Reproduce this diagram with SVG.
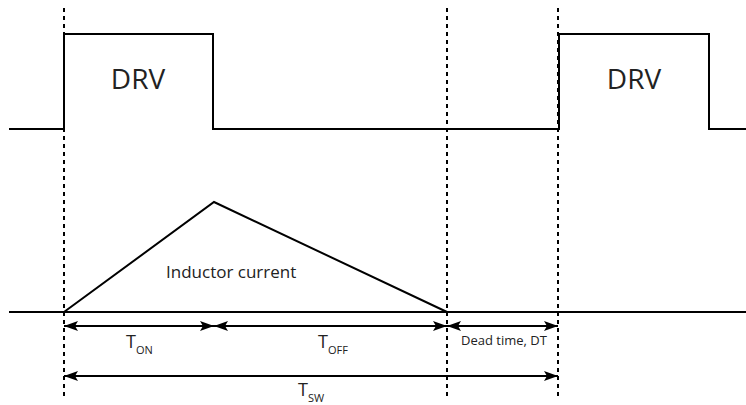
<svg xmlns="http://www.w3.org/2000/svg" width="746" height="405" viewBox="0 0 746 405">
<defs>
<style>
.ln{stroke:#000;stroke-width:2;fill:none}
.dash{stroke:#000;stroke-width:2;stroke-dasharray:4,4;fill:none}
.txt{font-family:"Open Sans","Noto Sans","Liberation Sans",sans-serif;fill:#222}
</style>
<marker id="ah" viewBox="0 0 14 10" refX="14" refY="5" markerWidth="14" markerHeight="10" markerUnits="userSpaceOnUse" orient="auto-start-reverse">
<path d="M0,0 L14,5 L0,10 L3,5 Z" fill="#000"/>
</marker>
</defs>
<rect width="746" height="405" fill="#fff"/>
<g id="guides">
<line class="dash" x1="64" y1="8" x2="64" y2="398"/>
<line class="dash" x1="447" y1="8" x2="447" y2="398"/>
<line class="dash" x1="558" y1="8" x2="558" y2="398"/>
</g>
<g id="drv-signal">
<path class="ln" d="M9,129 H64 V34 H213 V129 H559 V34 H709 V129 H746"/>
<text class="txt" x="138" y="89" font-size="28" text-anchor="middle">DRV</text>
<text class="txt" x="634" y="89" font-size="28" text-anchor="middle">DRV</text>
</g>
<g id="inductor-current">
<line class="ln" x1="9" y1="312" x2="746" y2="312"/>
<path class="ln" d="M64,312 L214,202 L447,312"/>
<text class="txt" x="166" y="278" font-size="17">Inductor current</text>
</g>
<g id="connectors">
<line class="ln" x1="64" y1="326" x2="214" y2="326" marker-start="url(#ah)" marker-end="url(#ah)"/>
<line class="ln" x1="214" y1="326" x2="447" y2="326" marker-start="url(#ah)" marker-end="url(#ah)"/>
<line class="ln" x1="447" y1="326" x2="558" y2="326" marker-start="url(#ah)" marker-end="url(#ah)"/>
<line class="ln" x1="64" y1="376" x2="558" y2="376" marker-start="url(#ah)" marker-end="url(#ah)"/>
</g>
<g id="labels">
<text class="txt" x="126" y="348" font-size="18">T<tspan font-size="11" dy="6">ON</tspan></text>
<text class="txt" x="318" y="348" font-size="18">T<tspan font-size="11" dy="6">OFF</tspan></text>
<text class="txt" x="298" y="396" font-size="18">T<tspan font-size="11" dy="6">SW</tspan></text>
<text class="txt" x="504" y="345" font-size="13" text-anchor="middle">Dead time, DT</text>
</g>
</svg>
